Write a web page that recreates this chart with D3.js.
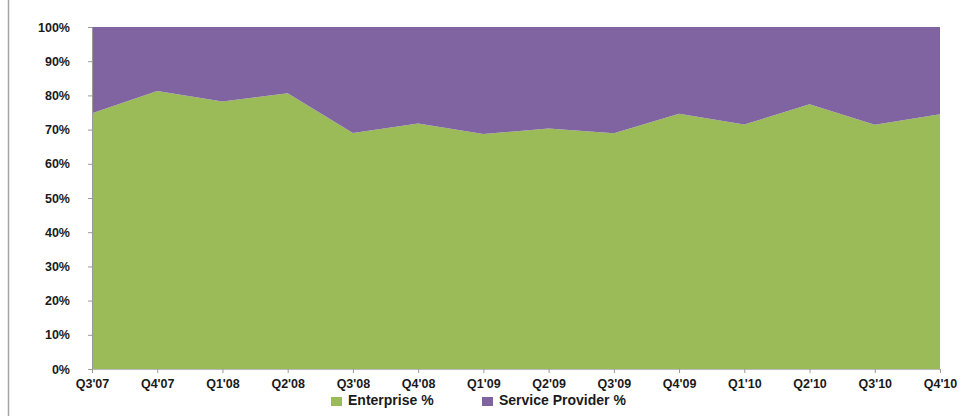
<!DOCTYPE html>
<html>
<head>
<meta charset="utf-8">
<script src="https://cdn.jsdelivr.net/npm/d3@7"></script>
<style>
  body { margin: 0; background: #fff; }
  text { font-family: "Liberation Sans", Arial, sans-serif; font-weight: bold; fill: #1a1a1a; }
</style>
</head>
<body>
<div class="chart"></div>
<script>
// data
var quarters = ["Q3'07", "Q4'07", "Q1'08", "Q2'08", "Q3'08", "Q4'08", "Q1'09",
	"Q2'09", "Q3'09", "Q4'09", "Q1'10", "Q2'10", "Q3'10", "Q4'10"];
var enterprise = [74.8, 81.3, 78.2, 80.6, 69.0, 71.8, 68.7, 70.3, 68.9, 74.6, 71.5, 77.4, 71.4, 74.5];
var serviceProvider = enterprise.map(function(v) { return +(100 - v).toFixed(1); });
var seriesNames = ["Enterprise %", "Service Provider %"];
var yTicks = [0, 10, 20, 30, 40, 50, 60, 70, 80, 90, 100];

var width = 969, height = 416;
var margin = { top: 27, right: 29, bottom: 47, left: 92 };
var colors = ["#9bbb59", "#8064a2"];

var svg = d3.select(".chart").append("svg")
	.attr("width", width)
	.attr("height", height);

// thin frame line on the left
svg.append("line")
	.attr("x1", 8.5).attr("x2", 8.5)
	.attr("y1", 0).attr("y2", height)
	.attr("stroke", "#a6a6a6")
	.attr("stroke-width", 1.5);

var x = d3.scalePoint()
	.domain(quarters)
	.range([margin.left, width - margin.right]);

var y = d3.scaleLinear()
	.domain([0, 100])
	.range([height - margin.bottom, margin.top]);

var rows = quarters.map(function(q, i) {
	return { q: q, ent: enterprise[i], sp: serviceProvider[i] };
});

var stack = d3.stack().keys(["ent", "sp"]);
var layers = stack(rows);

var area = d3.area()
	.x(function(d) { return x(d.data.q); })
	.y0(function(d) { return y(d[0]); })
	.y1(function(d) { return y(d[1]); });

svg.append("g").selectAll("path")
	.data(layers)
	.enter().append("path")
		.attr("d", area)
		.attr("fill", function(d, i) { return colors[i]; });

// y axis
var yAxis = svg.append("g")
	.attr("transform", "translate(" + margin.left + ",0)")
	.call(d3.axisLeft(y).tickValues(yTicks).tickSize(4).tickPadding(18)
		.tickFormat(function(d) { return d + "%"; }));
yAxis.select(".domain").attr("stroke", "#999");
yAxis.selectAll(".tick line").attr("stroke", "#999");
yAxis.selectAll("text").style("font-size", "12.5px").style("font-family", "'Liberation Sans', Arial, sans-serif");

// x axis
var xAxis = svg.append("g")
	.attr("transform", "translate(0," + (height - margin.bottom) + ")")
	.call(d3.axisBottom(x).tickSize(4).tickPadding(6));
xAxis.select(".domain").attr("stroke", "#bbb");
xAxis.selectAll(".tick line").attr("stroke", "#999");
xAxis.selectAll("text").style("font-size", "12.5px").style("font-family", "'Liberation Sans', Arial, sans-serif");

// legend
var legendX = [331, 482];
var legend = svg.append("g").selectAll("g")
	.data(seriesNames)
	.enter().append("g")
		.attr("transform", function(d, i) { return "translate(" + legendX[i] + ",396)"; });
legend.append("rect")
	.attr("width", 11).attr("height", 9)
	.attr("y", 1)
	.attr("fill", function(d, i) { return colors[i]; });
legend.append("text")
	.attr("x", 17)
	.attr("y", 9)
	.style("font-size", "14px")
	.text(function(d) { return d; });
</script>
</body>
</html>
